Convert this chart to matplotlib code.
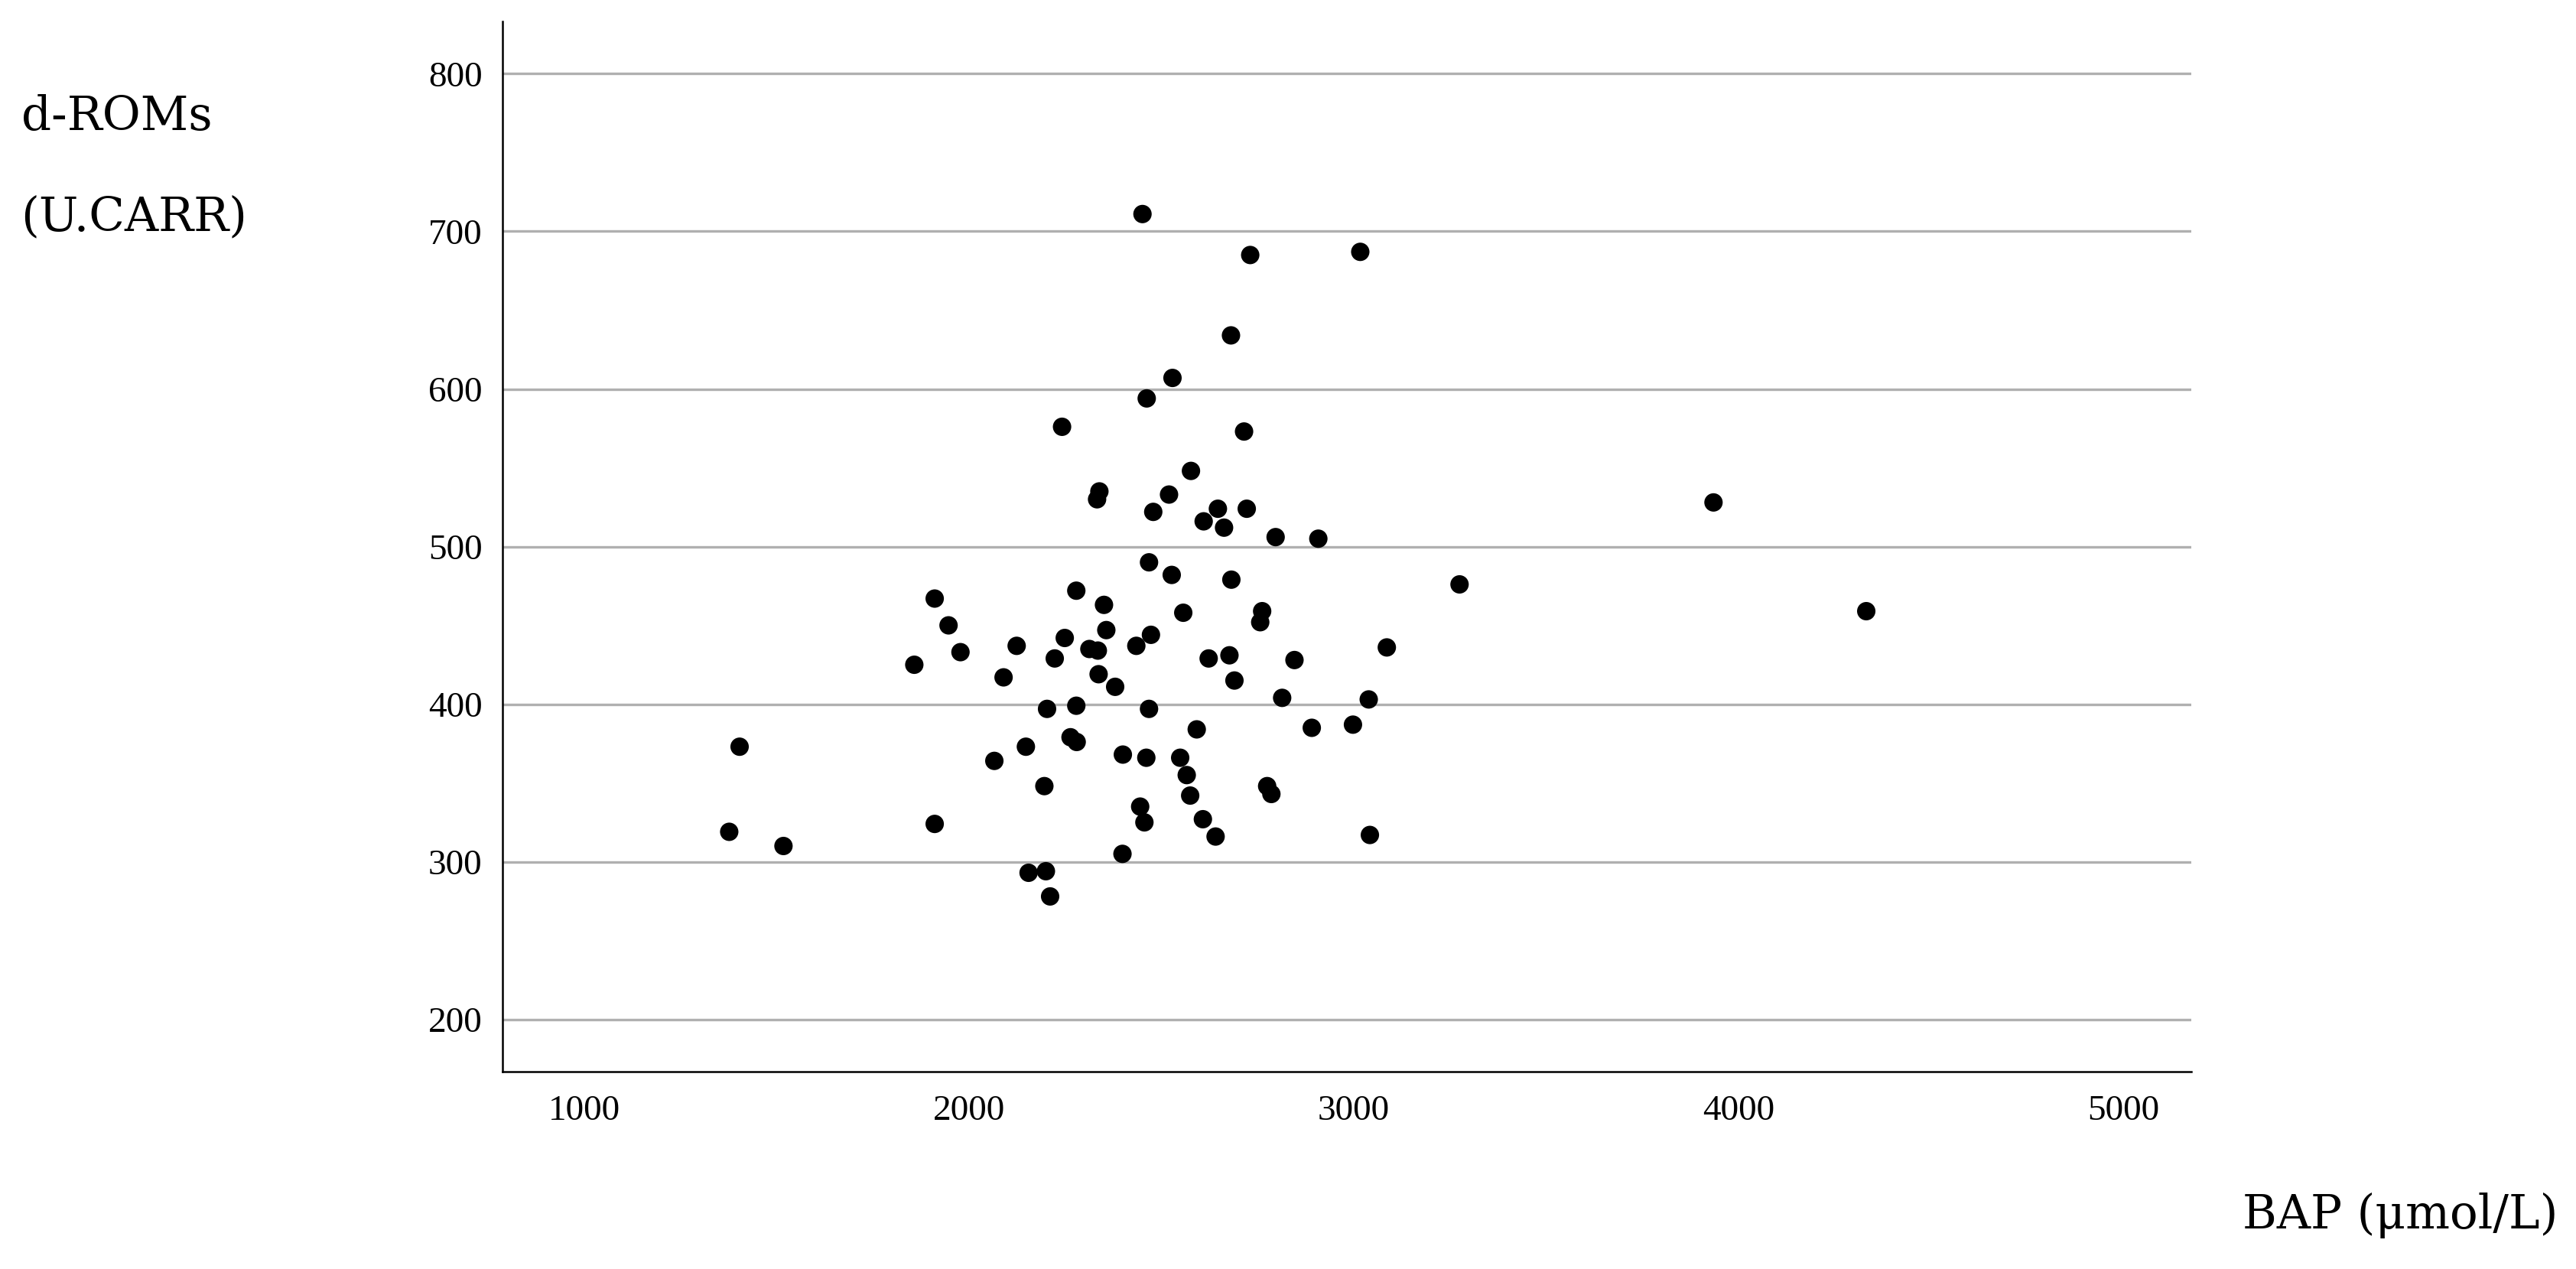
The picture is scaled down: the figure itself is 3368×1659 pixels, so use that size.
import matplotlib
matplotlib.use("Agg")
import matplotlib.pyplot as plt

# Data
bap = [2451, 2731, 2681, 2529, 2462, 2242, 2715, 2577, 2339, 2333, 2520, 2479,
       2647, 2722, 2610, 2663, 2797,
       3017, 2908,
       2468, 2527, 2682, 1911, 2279, 2351, 2557, 2762, 2757, 1947, 2357, 2473,
       2249, 2124, 2313, 2335, 2435, 1978, 2623, 2677, 2846, 1858, 2223, 2090,
       2337, 2380, 2690, 2814, 2203, 2279, 2468, 2592, 2264, 2280, 2148, 2066,
       2400, 2461, 2549, 2566, 2775, 2786, 2196, 2575, 2445, 2456, 2608, 2641,
       1911, 2399, 2155, 2200, 2211,
       3275, 3086, 3039, 2891, 2998, 3042,
       1404, 1377, 1518,
       3935, 4332]
droms = [711, 685, 634, 607, 594, 576, 573, 548, 535, 530, 533, 522,
         524, 524, 516, 512, 506,
         687, 505,
         490, 482, 479, 467, 472, 463, 458, 459, 452, 450, 447, 444,
         442, 437, 435, 434, 437, 433, 429, 431, 428, 425, 429, 417,
         419, 411, 415, 404, 397, 399, 397, 384, 379, 376, 373, 364,
         368, 366, 366, 355, 348, 343, 348, 342, 335, 325, 327, 316,
         324, 305, 293, 294, 278,
         476, 436, 403, 385, 387, 317,
         373, 319, 310,
         528, 459]

x_ticks = [1000, 2000, 3000, 4000, 5000]
y_ticks = [200, 300, 400, 500, 600, 700, 800]
x_label = "BAP (\u03bcmol/L)"
y_label_lines = ["d-ROMs", "(U.CARR)"]

fig = plt.figure(figsize=(33.68, 16.59), dpi=100)
ax = fig.add_axes([0.1951, 0.1555, 0.8507 - 0.1951, 0.9831 - 0.1555])

ax.set_xlim(788, 5177)
ax.set_ylim(166.8, 833.2)

for v in y_ticks:
    ax.axhline(v, color="#b0b0b0", linewidth=2.4, zorder=1)

ax.scatter(bap, droms, s=300, color="black", edgecolors="none", zorder=3)

for side in ["top", "right"]:
    ax.spines[side].set_visible(False)
for side in ["left", "bottom"]:
    ax.spines[side].set_linewidth(1.8)
    ax.spines[side].set_color("black")

ax.set_xticks(x_ticks)
ax.set_yticks(y_ticks)
ax.set_xticklabels([str(t) for t in x_ticks], family="Liberation Serif", fontsize=34)
ax.set_yticklabels([str(t) for t in y_ticks], family="Liberation Serif", fontsize=34)
ax.tick_params(axis="both", length=0)
ax.tick_params(axis="y", pad=19)
ax.tick_params(axis="x", pad=22)

fig.text(0.0083, 0.8975, y_label_lines[0], family="DejaVu Serif", fontsize=44,
         ha="left", va="baseline")
fig.text(0.0080, 0.8181, y_label_lines[1], family="DejaVu Serif", fontsize=44,
         ha="left", va="baseline")
fig.text(0.8706, 0.0319, x_label, family="DejaVu Serif", fontsize=44,
         ha="left", va="baseline")

fig.savefig("out.png", dpi=100, facecolor="white")
